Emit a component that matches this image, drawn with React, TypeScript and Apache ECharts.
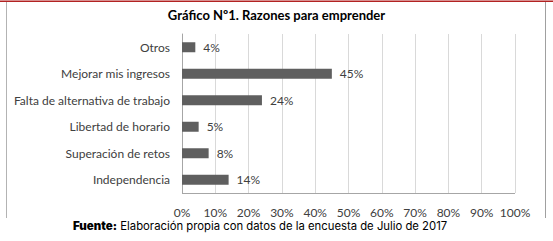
import React, { useEffect, useRef } from "react";
import * as echarts from "echarts";

const categories = [
  "Otros",
  "Mejorar mis ingresos",
  "Falta de alternativa de trabajo",
  "Libertad de horario",
  "Superación de retos",
  "Independencia",
];
const values = [4, 45, 24, 5, 8, 14];
const titleText = "Gráfico Nº1. Razones para emprender";
const sourceLabel = "Fuente:";
const sourceText = "Elaboración propia con datos de la encuesta de Julio de 2017";

export default function App() {
  const ref = useRef<HTMLDivElement>(null);
  useEffect(() => {
    document.body.style.margin = "0";
    if (!ref.current) return;
    const chart = echarts.init(ref.current, null, { renderer: "svg" });
    chart.setOption({
      animation: false,
      backgroundColor: "#ffffff",
      title: {
        text: titleText,
        left: "center",
        top: 3,
        itemGap: 0,
        textStyle: {
          fontFamily: "Lato",
          fontWeight: "bold",
          fontSize: 13,
          color: "#000000",
        },
      },
      grid: { left: 182, right: 38, top: 34, height: 159, containLabel: false },
      xAxis: {
        type: "value",
        min: 0,
        max: 100,
        interval: 10,
        axisLine: { show: false },
        axisTick: { show: false },
        splitLine: { show: true, lineStyle: { color: "#d9d9d9", width: 1 } },
        axisLabel: {
          formatter: "{value}%",
          fontFamily: "Lato",
          fontSize: 12,
          color: "#404040",
          margin: 13,
        },
      },
      yAxis: {
        type: "category",
        data: categories,
        inverse: true,
        axisLine: { show: true, lineStyle: { color: "#a6a6a6", width: 1 } },
        axisTick: { show: false },
        axisLabel: {
          fontFamily: "Lato",
          fontSize: 12,
          color: "#404040",
          margin: 12,
        },
      },
      series: [
        {
          type: "bar",
          data: values,
          barWidth: 10,
          itemStyle: { color: "#5f5f5f" },
          label: {
            show: true,
            position: "right",
            distance: 8,
            formatter: "{c}%",
            fontFamily: "Lato",
            fontSize: 12,
            color: "#404040",
          },
        },
      ],
      graphic: [
        {
          type: "rect",
          shape: { x: 0, y: 0.5, width: 553, height: 1.5 },
          style: { fill: "#b22222" },
          silent: true,
        },
        {
          type: "line",
          shape: { x1: 6.5, y1: 2, x2: 6.5, y2: 218 },
          style: { stroke: "#b3b3b3", lineWidth: 1 },
          silent: true,
        },
        {
          type: "line",
          shape: { x1: 545.5, y1: 2, x2: 545.5, y2: 218 },
          style: { stroke: "#a0a0a0", lineWidth: 1 },
          silent: true,
        },
        {
          type: "line",
          shape: { x1: 182, y1: 193.5, x2: 515, y2: 193.5 },
          style: { stroke: "#a6a6a6", lineWidth: 1 },
          silent: true,
        },
        {
          type: "text",
          left: 73,
          top: 220,
          style: {
            text: "{b|" + sourceLabel + "} {n|" + sourceText + "}",
            rich: {
              b: {
                fontFamily: "Inter",
                fontWeight: 900,
                fontSize: 11.5,
                fill: "#000000",
              },
              n: {
                fontFamily: "Inter",
                fontSize: 11.3,
                fill: "#000000",
              },
            },
          },
        },
      ],
    });
    return () => chart.dispose();
  }, []);
  return <div ref={ref} style={{ width: 553, height: 241 }} />;
}
